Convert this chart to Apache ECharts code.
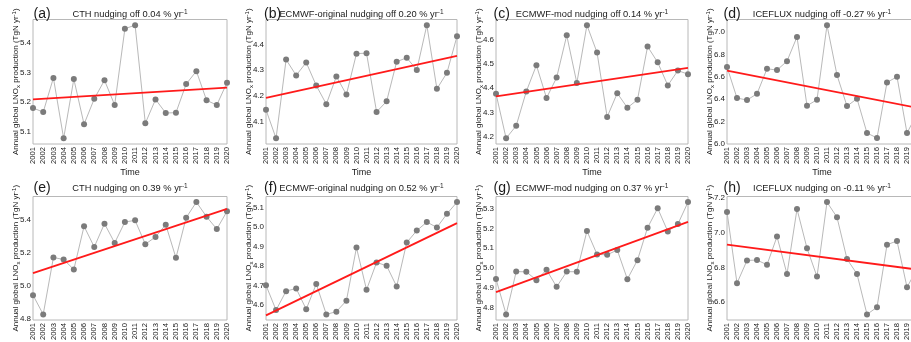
<!DOCTYPE html>
<html>
<head>
<meta charset="utf-8">
<script src="https://cdn.jsdelivr.net/npm/echarts@6/dist/echarts.min.js"></script>
<style>
  html, body { margin: 0; padding: 0; background: #fff; }
  #chart { width: 911px; height: 342px; }
</style>
</head>
<body>
<div id="chart"></div>
<script>
// Annual global lightning NOx production, 2001-2020, for four parameterisations
// with nudging off (top row) and on (bottom row).
const years = [2001, 2002, 2003, 2004, 2005, 2006, 2007, 2008, 2009, 2010,
               2011, 2012, 2013, 2014, 2015, 2016, 2017, 2018, 2019, 2020];

const cthOff       = [5.180, 5.166, 5.282, 5.077, 5.278, 5.125, 5.211, 5.274, 5.190, 5.449,
                      5.461, 5.128, 5.209, 5.163, 5.164, 5.261, 5.305, 5.206, 5.190, 5.266];
const ecmwfOrigOff = [4.147, 4.037, 4.341, 4.280, 4.330, 4.241, 4.169, 4.276, 4.206, 4.364,
                      4.366, 4.139, 4.180, 4.333, 4.348, 4.301, 4.474, 4.228, 4.290, 4.431];
const ecmwfModOff  = [4.377, 4.193, 4.245, 4.386, 4.494, 4.359, 4.443, 4.617, 4.421, 4.659,
                      4.546, 4.281, 4.379, 4.319, 4.352, 4.571, 4.506, 4.411, 4.472, 4.457];
const icefluxOff   = [6.688, 6.411, 6.393, 6.449, 6.673, 6.661, 6.741, 6.958, 6.342, 6.396,
                      7.063, 6.616, 6.339, 6.405, 6.098, 6.054, 6.551, 6.601, 6.098, 6.270];
const cthOn        = [4.941, 4.824, 5.170, 5.158, 5.097, 5.360, 5.234, 5.376, 5.259, 5.386,
                      5.396, 5.251, 5.295, 5.370, 5.168, 5.412, 5.507, 5.418, 5.343, 5.451];
const ecmwfOrigOn  = [4.702, 4.575, 4.672, 4.686, 4.579, 4.709, 4.553, 4.567, 4.623, 4.895,
                      4.679, 4.819, 4.802, 4.696, 4.921, 4.982, 5.026, 4.998, 5.068, 5.128];
const ecmwfModOn   = [4.945, 4.766, 4.982, 4.981, 4.939, 4.991, 4.905, 4.982, 4.981, 5.187,
                      5.069, 5.067, 5.091, 4.944, 5.040, 5.204, 5.302, 5.185, 5.222, 5.333];
const icefluxOn    = [7.118, 6.709, 6.840, 6.842, 6.815, 6.977, 6.762, 7.135, 6.910, 6.747,
                      7.175, 7.088, 6.848, 6.762, 6.530, 6.571, 6.930, 6.952, 6.686, 6.790];

// Linear trends, % per year relative to the 20-year mean
const trendPct = [0.04, 0.20, 0.14, -0.27, 0.39, 0.52, 0.37, -0.11];

const panelTags   = ['(a)', '(b)', '(c)', '(d)', '(e)', '(f)', '(g)', '(h)'];
const panelTitles = ['CTH nudging off', 'ECMWF-original nudging off', 'ECMWF-mod nudging off', 'ICEFLUX nudging off',
                     'CTH nudging on', 'ECMWF-original nudging on', 'ECMWF-mod nudging on', 'ICEFLUX nudging on'];

// y tick labels for each panel
const yTicksA = [5.1, 5.2, 5.3, 5.4];
const yTicksB = [4.1, 4.2, 4.3, 4.4];
const yTicksC = [4.2, 4.3, 4.4, 4.5, 4.6];
const yTicksD = [6.0, 6.2, 6.4, 6.6, 6.8, 7.0];
const yTicksE = [4.8, 5.0, 5.2, 5.4];
const yTicksF = [4.6, 4.7, 4.8, 4.9, 5.0, 5.1];
const yTicksG = [4.8, 4.9, 5.0, 5.1, 5.2, 5.3];
const yTicksH = [6.6, 6.8, 7.0, 7.2];

const seriesValues = [cthOff, ecmwfOrigOff, ecmwfModOff, icefluxOff, cthOn, ecmwfOrigOn, ecmwfModOn, icefluxOn];
const yTicks = [yTicksA, yTicksB, yTicksC, yTicksD, yTicksE, yTicksF, yTicksG, yTicksH];

// layout
const colLeft  = [33, 266, 496, 727];
const colWidth = [194, 191, 192, 190];
const tagShift = [0.5, -2, -2.5, -3.5];
const rowTop    = [19.5, 196.5];
const rowHeight = [124.5, 123.5];

const FONT = "'Liberation Sans', Arial, Helvetica, sans-serif";
const TEXT = '#1a1a1a';

const grids = [], xAxes = [], yAxes = [], series = [], graphics = [];

seriesValues.forEach((vals, i) => {
  const col = i % 4, row = Math.floor(i / 4);
  const left = colLeft[col], top = rowTop[row], width = colWidth[col], height = rowHeight[row];

  grids.push({
    left: left, top: top, width: width, height: height,
    show: true, borderColor: '#b8b8b8', borderWidth: 1, backgroundColor: 'transparent',
    containLabel: false, outerBoundsMode: 'none'
  });

  // axis limits: data range padded by 5 %
  let lo = Math.min(...vals), hi = Math.max(...vals);
  const pad = (hi - lo) * 0.05;
  lo -= pad; hi += pad;
  const ticks = yTicks[i];
  if (ticks[0] < lo && lo - ticks[0] < (hi - lo) * 0.01) lo = ticks[0];

  xAxes.push({
    gridIndex: i, type: 'value', min: 2001, max: 2020, interval: 1,
    axisLine: { show: false }, axisTick: { show: false }, splitLine: { show: false },
    axisLabel: {
      rotate: 90, fontSize: 7.6, margin: 3, color: TEXT, fontFamily: FONT,
      formatter: v => String(v), showMinLabel: true, showMaxLabel: true, hideOverlap: false
    },
    name: 'Time', nameLocation: 'middle', nameGap: 24, nameMoveOverlap: false,
    nameTextStyle: { fontSize: 9, color: TEXT, fontFamily: FONT }
  });

  yAxes.push({
    gridIndex: i, type: 'value', min: lo, max: hi,
    axisLine: { show: false }, axisTick: { show: false }, splitLine: { show: false },
    axisLabel: {
      customValues: ticks, fontSize: 8, margin: 2, color: TEXT, fontFamily: FONT,
      formatter: v => v.toFixed(1)
    },
    name: 'Annual global LNO{sub|x} production (TgN yr{sup|-1})',
    nameLocation: 'middle', nameRotate: 90, nameGap: 12, nameMoveOverlap: false,
    nameTextStyle: {
      fontSize: 8, color: TEXT, fontFamily: FONT, lineHeight: 10,
      rich: {
        sub: { fontSize: 6, color: TEXT, fontFamily: FONT, verticalAlign: 'bottom', lineHeight: 10 },
        sup: { fontSize: 6, color: TEXT, fontFamily: FONT, verticalAlign: 'top', lineHeight: 10 }
      }
    }
  });

  series.push({
    type: 'line', xAxisIndex: i, yAxisIndex: i,
    data: years.map((y, k) => [y, vals[k]]),
    symbol: 'circle', symbolSize: 6, showSymbol: true,
    itemStyle: { color: '#7b7b7b' },
    lineStyle: { color: '#b9b9b9', width: 1 },
    z: 2, silent: true
  });

  // trend line through the mean with slope = pct/100 * mean
  const meanY = vals.reduce((s, v) => s + v, 0) / vals.length;
  const meanX = years.reduce((s, v) => s + v, 0) / years.length;
  const slope = trendPct[i] / 100 * meanY;
  const x0 = years[0], x1 = years[years.length - 1];
  series.push({
    type: 'line', xAxisIndex: i, yAxisIndex: i,
    data: [[x0, meanY + slope * (x0 - meanX)], [x1, meanY + slope * (x1 - meanX)]],
    symbol: 'none', lineStyle: { color: '#ff1a1a', width: 1.8 },
    z: 3, silent: true
  });

  // panel letter and title
  const titleY = row === 0 ? 14.5 : 188.5;
  graphics.push({
    type: 'text', x: left + tagShift[col], y: titleY,
    style: { text: panelTags[i], fontSize: 14, fontFamily: FONT, fill: TEXT, align: 'left', verticalAlign: 'middle' }
  });
  const pct = trendPct[i].toFixed(2);
  graphics.push({
    type: 'text', x: left + width / 2, y: titleY,
    style: {
      text: panelTitles[i] + ' ' + pct + ' % yr{sup|-1}',
      fontSize: 9.3, fontFamily: FONT, fill: TEXT, align: 'center', verticalAlign: 'middle',
      lineHeight: 12,
      rich: { sup: { fontSize: 6.5, fontFamily: FONT, fill: TEXT, verticalAlign: 'top', lineHeight: 12 } }
    }
  });
});

const chart = echarts.init(document.getElementById('chart'), null, { renderer: 'canvas' });
chart.setOption({
  animation: false,
  backgroundColor: '#ffffff',
  textStyle: { fontFamily: FONT },
  grid: grids, xAxis: xAxes, yAxis: yAxes, series: series,
  graphic: graphics
});
</script>
</body>
</html>
